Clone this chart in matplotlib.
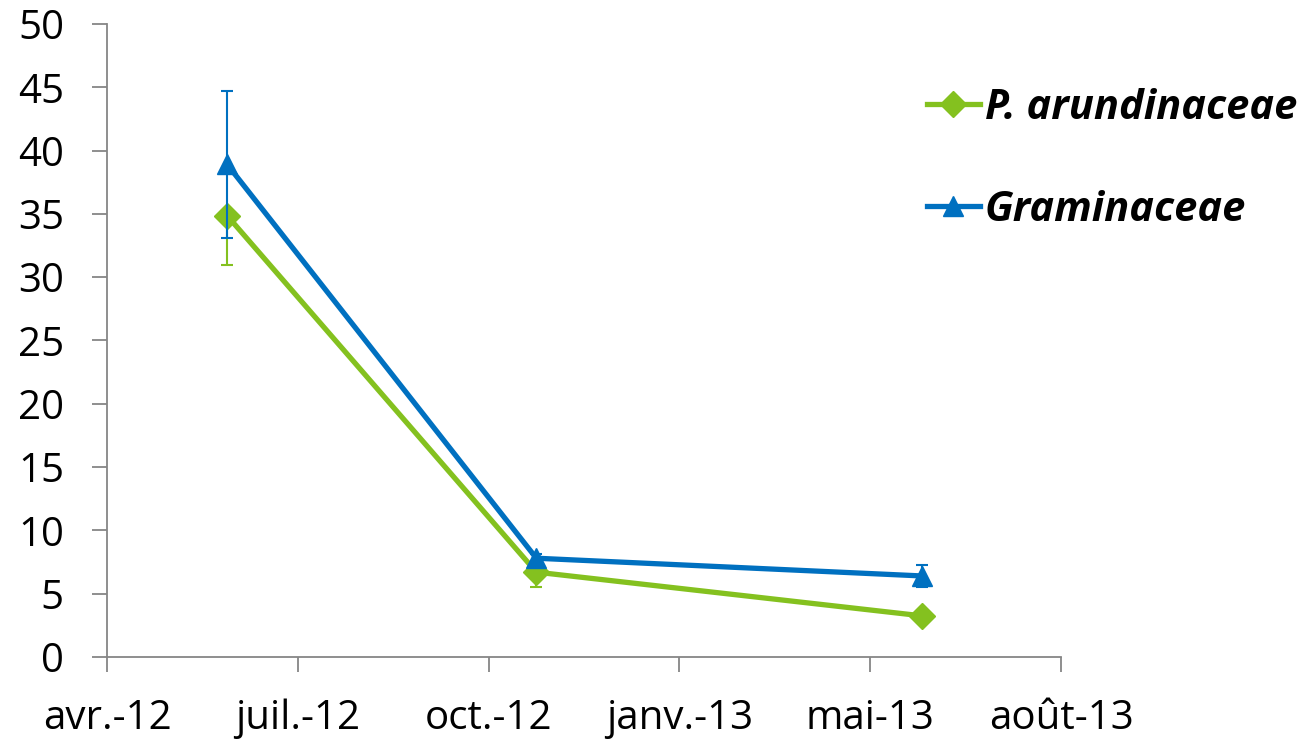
import datetime as dt

import matplotlib
matplotlib.use("Agg")
import matplotlib.pyplot as plt
import matplotlib.dates as mdates

# sampling dates and means with error bars (lower, upper)
dates = [dt.date(2012, 6, 3), dt.date(2012, 11, 12), dt.date(2013, 6, 2)]
arundinaceae = [34.85, 6.7, 3.25]
arundinaceae_err_low = [3.85, 1.15, 0.3]
arundinaceae_err_high = [0.0, 0.0, 0.3]
graminaceae = [38.9, 7.8, 6.4]
graminaceae_err_low = [5.8, 0.3, 0.9]
graminaceae_err_high = [5.8, 0.3, 0.9]

# Excel style date axis: every 100 days from 1 April 2012
tick_dates = [dt.date(2012, 4, 1) + dt.timedelta(days=100 * i) for i in range(6)]
tick_labels = ["avr.-12", "juil.-12", "oct.-12", "janv.-13", "mai-13", "août-13"]
y_ticks = list(range(0, 51, 5))

green = "#84C11F"
blue = "#0070C0"
axis_grey = "#868686"

fig = plt.figure(figsize=(13.07, 7.42), dpi=100)
ax = fig.add_axes([0.0819, 0.1146, 0.8118 - 0.0819, 0.9677 - 0.1146])

ax.errorbar(dates, arundinaceae, yerr=[arundinaceae_err_low, arundinaceae_err_high],
            color=green, lw=3.8, marker="D", markersize=13, ecolor=green,
            elinewidth=1.5, capsize=4.6, capthick=1.5,
            label="P. arundinaceae", zorder=3)
ax.errorbar(dates, graminaceae, yerr=[graminaceae_err_low, graminaceae_err_high],
            color=blue, lw=3.8, marker="^", markersize=14, ecolor=blue,
            elinewidth=1.5, capsize=4.6, capthick=1.5,
            label="Graminaceae", zorder=4)

ax.set_xlim(mdates.date2num(tick_dates[0]), mdates.date2num(tick_dates[-1]))
ax.set_ylim(0, 50)
ax.set_xticks(mdates.date2num(tick_dates))
ax.set_xticklabels(tick_labels, fontsize=29, family="Open Sans")
ax.set_yticks(y_ticks)
ax.set_yticklabels([str(v) for v in y_ticks], fontsize=29, family="Open Sans")

for side in ["top", "right"]:
    ax.spines[side].set_visible(False)
for side in ["left", "bottom"]:
    ax.spines[side].set_color(axis_grey)
    ax.spines[side].set_linewidth(1.3)
ax.tick_params(axis="both", direction="out", length=11, width=1.3,
               color=axis_grey, labelcolor="black")
ax.tick_params(axis="x", pad=19)
ax.tick_params(axis="y", pad=20)

handles, labels = ax.get_legend_handles_labels()
handles = [h[0] for h in handles]
leg = fig.legend(handles, labels, loc="upper left",
                 bbox_to_anchor=(0.709, 0.882), frameon=False,
                 prop={"family": "Open Sans", "weight": "bold",
                       "style": "italic", "size": 30},
                 handlelength=1.27, handletextpad=0.12, labelspacing=1.47,
                 borderpad=0, borderaxespad=0)

fig.savefig("out.png", dpi=100, facecolor="white")
